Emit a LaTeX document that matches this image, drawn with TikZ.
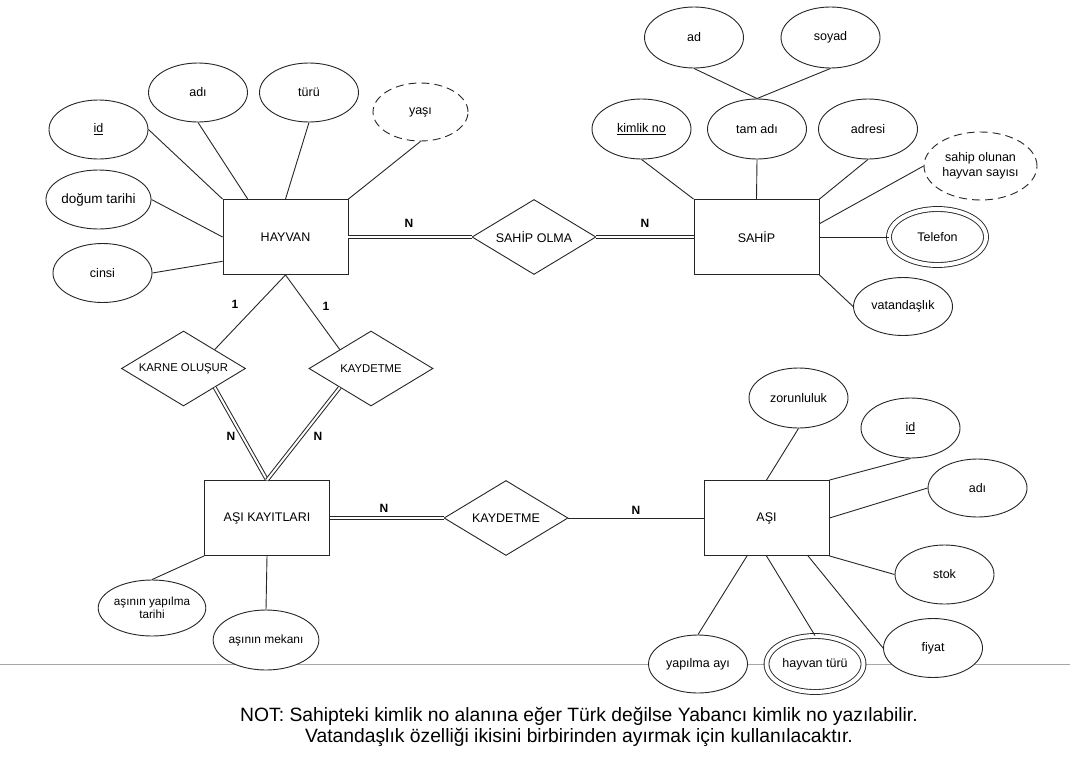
\documentclass[tikz,border=0pt]{standalone}
\usepackage{fontspec}
\setmainfont{Liberation Sans}
\usetikzlibrary{shapes.geometric,calc}
\begin{document}
\begin{tikzpicture}[x=1pt,y=-1pt,
 base/.style={line width=0.9pt, draw=black!85},
 ent/.style={base, rectangle, minimum width=125pt, minimum height=75pt, inner sep=0pt, fill=white, font=\fontsize{12.5}{14}\selectfont},
 attr/.style={base, ellipse, minimum width=99pt, minimum height=59pt, inner sep=0pt, fill=white, font=\fontsize{12.5}{14.5}\selectfont, align=center},
 derived/.style={attr, dash pattern=on 8pt off 5pt},
 multi/.style={attr, double, double distance=4pt, minimum width=97pt, minimum height=56pt},
 rel/.style={base, diamond, aspect=1.65, minimum width=124pt, minimum height=75pt, inner sep=0pt, fill=white, font=\fontsize{12.5}{14}\selectfont},
 smallrel/.style={rel, font=\fontsize{11.3}{13}\selectfont},
 conn/.style={base},
 dbl/.style={line width=1pt, draw=black!85, double, double distance=2pt},
 card/.style={font=\bfseries\fontsize{12}{14}\selectfont, inner sep=0pt},
]
\useasboundingbox (0,0) rectangle (1070,763);
\coordinate (gl) at (0,664);
\coordinate (gr) at (1070,664);
\draw[gray!70, line width=0.9pt] (gl) -- (gr);

% entities
\node[ent] (hayvan) at (285.5,237) {HAYVAN};
\node[ent] (sahip) at (756.5,237) {SAHİP};
\node[ent] (asikayit) at (267,518) {AŞI KAYITLARI};
\node[ent] (asi) at (766.5,518) {AŞI};

% relationships
\node[rel] (sahipolma) at (534,237) {SAHİP OLMA};
\node[smallrel] (karne) at (183.5,368.5) {KARNE OLUŞUR};
\node[smallrel] (kaydet1) at (371,368.5) {KAYDETME};
\node[rel] (kaydet2) at (506,518) {KAYDETME};

% HAYVAN attributes
\node[attr] (hid) at (98.5,129.5) {\underline{id}};
\node[attr] (hadi) at (198,92.5) {adı};
\node[attr] (hturu) at (309,92.5) {türü};
\node[derived, minimum width=95pt, minimum height=58pt] (hyasi) at (420.5,112) {yaşı};
\node[attr, font=\fontsize{13.5}{15}\selectfont] (hdogum) at (98.5,199.5) {doğum tarihi};
\node[attr] (hcinsi) at (102.5,273) {cinsi};

% SAHIP attributes
\node[attr, minimum height=61pt] (sad) at (694,37.5) {ad};
\node[attr, minimum height=61pt] (ssoyad) at (830.5,37.5) {soyad};
\node[attr, minimum height=60pt] (skimlik) at (641.5,129) {\underline{kimlik no}};
\node[attr, minimum height=60pt] (stamadi) at (757,129) {tam adı};
\node[attr, minimum height=60pt] (sadresi) at (868,129) {adresi};
\node[derived, minimum width=113pt, minimum height=68pt] (ssahipolunan) at (980.5,166) {sahip olunan\\hayvan sayısı};
\node[multi] (stelefon) at (937.5,237) {Telefon};
\node[attr, minimum height=58pt] (svatandas) at (903,306.5) {vatandaşlık};

% ASI attributes
\node[attr, minimum height=60pt] (azorun) at (798.5,398) {zorunluluk};
\node[attr, minimum height=60pt] (aid) at (910.5,428) {\underline{id}};
\node[attr, minimum height=58pt] (aadi) at (977.5,488) {adı};
\node[attr] (astok) at (944.5,574.5) {stok};
\node[attr] (afiyat) at (933,648) {fiyat};
\node[attr, minimum height=58pt] (ayapilma) at (698,664) {yapılma ayı};
\node[multi] (ahayvanturu) at (815,664) {hayvan türü};

% ASI KAYITLARI attributes
\node[attr, minimum height=56pt, font=\fontsize{11.7}{13}\selectfont] (ktarih) at (152,608) {aşının yapılma\\tarihi};
\node[attr, minimum height=60pt, font=\fontsize{11.9}{13}\selectfont] (kmekan) at (266,640) {aşının mekanı};

% note
\node[font=\fontsize{19.3}{21}\selectfont, align=center, inner sep=0pt] (note) at (579,727) {NOT: Sahipteki kimlik no alanına eğer Türk değilse Yabancı kimlik no yazılabilir.\\Vatandaşlık özelliği ikisini birbirinden ayırmak için kullanılacaktır.};

% HAYVAN connectors
\draw[conn] (hid.east) -- (hayvan.north west);
\draw[conn] (hadi.south) -- ($(hayvan.north west)!0.2!(hayvan.north east)$);
\draw[conn] (hturu.south) -- (hayvan.north);
\draw[conn] (hyasi.south) -- (hayvan.north east);
\draw[conn] (hdogum.east) -- (hayvan.west);
\draw[conn] (hcinsi.east) -- ($(hayvan.west)!0.64!(hayvan.south west)$);

% SAHIP connectors
\draw[conn] (sad.south) -- (stamadi.north);
\draw[conn] (ssoyad.south) -- (stamadi.north);
\draw[conn] (skimlik.south) -- (sahip.north west);
\draw[conn] (stamadi.south) -- (sahip.north);
\draw[conn] (sadresi.south) -- (sahip.north east);
\draw[conn] (ssahipolunan.west) -- ($(sahip.east)!0.35!(sahip.north east)$);
\draw[conn] (stelefon.west) -- (sahip.east);
\draw[conn] (svatandas.west) -- (sahip.south east);

% relationship connectors
\draw[dbl] (hayvan.east) -- (sahipolma.west);
\draw[dbl] (sahipolma.east) -- (sahip.west);
\draw[conn] (hayvan.south) -- ($(karne.north)!0.5!(karne.east)$);
\draw[conn] (hayvan.south) -- ($(kaydet1.north)!0.5!(kaydet1.west)$);
\draw[dbl] ($(karne.south)!0.5!(karne.east)$) -- (asikayit.north);
\draw[dbl] ($(kaydet1.south)!0.5!(kaydet1.west)$) -- (asikayit.north);
\draw[dbl] (asikayit.east) -- (kaydet2.west);
\draw[conn] (kaydet2.east) -- (asi.west);

% ASI connectors
\draw[conn] (azorun.south) -- (asi.north);
\draw[conn] (aid.south) -- (asi.north east);
\draw[conn] (aadi.west) -- (asi.east);
\draw[conn] (astok.west) -- (asi.south east);
\draw[conn] (afiyat.west) -- ($(asi.south)!0.66!(asi.south east)$);
\draw[conn] (ayapilma.north) -- ($(asi.south)!0.31!(asi.south west)$);
\draw[conn] (ahayvanturu.north) -- (asi.south);

% ASI KAYITLARI connectors
\draw[conn] (ktarih.north) -- (asikayit.south west);
\draw[conn] (kmekan.north) -- (asikayit.south);

% cardinalities
\node[card] (c1) at (409,223) {N};
\node[card] (c2) at (645,223) {N};
\node[card] (c3) at (235,304) {1};
\node[card] (c4) at (326,306) {1};
\node[card] (c5) at (231,436) {N};
\node[card] (c6) at (318,436) {N};
\node[card] (c7) at (384,508) {N};
\node[card] (c8) at (636,510) {N};
\end{tikzpicture}
\end{document}
